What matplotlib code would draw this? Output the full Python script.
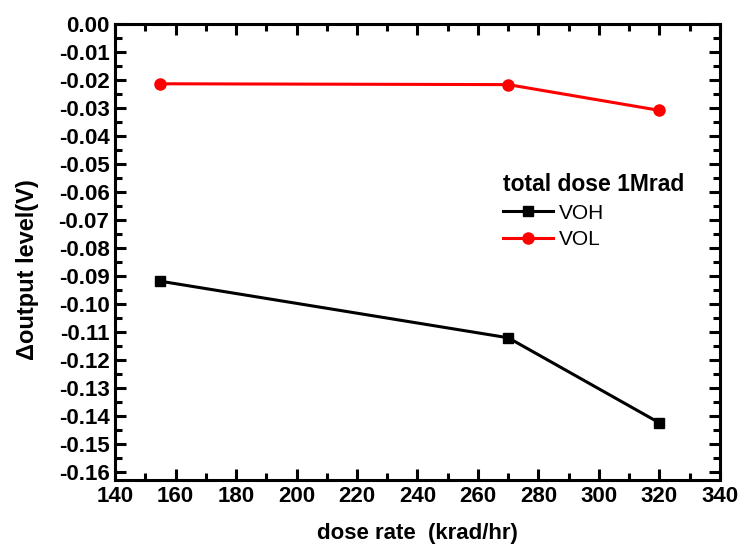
import matplotlib
matplotlib.use("Agg")
import matplotlib.pyplot as plt
from matplotlib.ticker import MultipleLocator, FormatStrFormatter

plt.rcParams['font.family'] = ['Liberation Sans', 'DejaVu Sans']
plt.rcParams['axes.unicode_minus'] = False

# veri
dose_rate = [155, 270, 320]
voh = [-0.092, -0.1122, -0.1426]
vol = [-0.0215, -0.0218, -0.031]

fig = plt.figure(figsize=(7.44, 5.48), dpi=100)
ax = fig.add_axes([0.1546, 0.124, 0.8131, 0.833])

ax.plot(dose_rate, voh, color="black", lw=2.2, marker="s", ms=7.5, label="VOH")
ax.plot(dose_rate, vol, color="red", lw=2.2, marker="o", ms=8, label="VOL")

ax.set_xlim(140, 340)
ax.set_ylim(-0.163, 0.0)
ax.xaxis.set_major_locator(MultipleLocator(20))
ax.xaxis.set_minor_locator(MultipleLocator(10))
ax.yaxis.set_major_locator(MultipleLocator(0.01))
ax.yaxis.set_minor_locator(MultipleLocator(0.005))
ax.yaxis.set_major_formatter(FormatStrFormatter("%.2f"))

for s in ax.spines.values():
    s.set_linewidth(2.2)
ax.tick_params(which="both", direction="in", top=True, right=True, width=2.2,
               labelsize=16)
ax.tick_params(which="major", length=8, pad=4)
ax.tick_params(which="minor", length=5)
for lab in ax.get_xticklabels() + ax.get_yticklabels():
    lab.set_fontweight("bold")

ax.set_xlabel("dose rate  (krad/hr)", fontsize=16, fontweight="bold", labelpad=12)
ax.set_ylabel("Δoutput level(V)", fontsize=17, fontweight="bold")
ax.yaxis.set_label_coords(-0.125, 0.46)

leg = ax.legend(title="total dose 1Mrad", loc="upper left",
                bbox_to_anchor=(0.627, 0.69), frameon=False, fontsize=15,
                title_fontproperties={"weight": "bold", "size": 16.5},
                handlelength=2.4, handletextpad=0.3, labelspacing=0.35,
                alignment="left", borderaxespad=0)

fig.savefig("out.png", dpi=100)
